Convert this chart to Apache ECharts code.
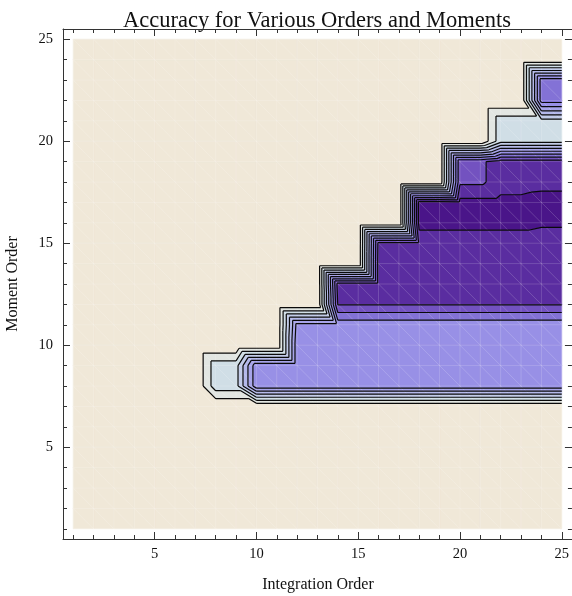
<!DOCTYPE html>
<html>
<head>
<meta charset="utf-8">
<script src="https://cdn.jsdelivr.net/npm/echarts@6/dist/echarts.min.js"></script>
<style>html,body{margin:0;padding:0;background:#fff}#c{width:572px;height:596px}</style>
</head>
<body>
<div id="c"></div>
<script>
// ---- data ----
const integrationOrders = [1,2,3,4,5,6,7,8,9,10,11,12,13,14,15,16,17,18,19,20,21,22,23,24,25];
const momentOrders = [1,2,3,4,5,6,7,8,9,10,11,12,13,14,15,16,17,18,19,20,21,22,23,24,25];
const minorTicks = [1,2,3,4,5,6,7,8,9,10,11,12,13,14,15,16,17,18,19,20,21,22,23,24,25];
const majorTicks = [5,10,15,20,25];
const contourLevels = [1,2,3,4,5,6,7,8,9,10];
const bandColors = ['#4a1589','#5a2da0','#7352c0','#8372d6','#9890e6','#a7a4e9','#b4b8ea','#c2cbe8','#d0dee6','#e2e6e2','#f0e8d8'];
const titleText = 'Accuracy for Various Orders and Moments';
const xName = 'Integration Order';
const yName = 'Moment Order';
// accuracy[momentOrder-1][integrationOrder-1]
const accuracy = [
  [11,11,11,11,11, 11,11,11,11,11, 11,11,11,11,11, 11,11,11,11,11, 11,11,11,11,11],
  [11,11,11,11,11, 11,11,11,11,11, 11,11,11,11,11, 11,11,11,11,11, 11,11,11,11,11],
  [11,11,11,11,11, 11,11,11,11,11, 11,11,11,11,11, 11,11,11,11,11, 11,11,11,11,11],
  [11,11,11,11,11, 11,11,11,11,11, 11,11,11,11,11, 11,11,11,11,11, 11,11,11,11,11],
  [11,11,11,11,11, 11,11,11,11,11, 11,11,11,11,11, 11,11,11,11,11, 11,11,11,11,11],
  [11,11,11,11,11, 11,11,11,11,11, 11,11,11,11,11, 11,11,11,11,11, 11,11,11,11,11],
  [11,11,11,11,11, 11,11,11,11,11, 11,11,11,11,11, 11,11,11,11,11, 11,11,11,11,11],
  [11,11,11,11,11, 11,11,8.4,8.4,4.3, 4.3,4.3,4.3,4.3,4.3, 4.3,4.3,4.3,4.3,4.3, 4.3,4.3,4.3,4.3,4.3],
  [11,11,11,11,11, 11,11,8.4,8.4,4.3, 4.3,4.3,4.3,4.3,4.3, 4.3,4.3,4.3,4.3,4.3, 4.3,4.3,4.3,4.3,4.3],
  [11,11,11,11,11, 11,11,11,11,11, 11,4.3,4.3,4.3,4.3, 4.3,4.3,4.3,4.3,4.3, 4.3,4.3,4.3,4.3,4.3],
  [11,11,11,11,11, 11,11,11,11,11, 11,4.6,4.6,4.6,4.6, 4.6,4.6,4.6,4.6,4.6, 4.6,4.6,4.6,4.6,4.6],
  [11,11,11,11,11, 11,11,11,11,11, 11,11,11,1.95,1.95, 1.95,1.95,1.95,1.95,1.95, 1.95,1.95,1.95,1.95,1.95],
  [11,11,11,11,11, 11,11,11,11,11, 11,11,11,1.6,1.6, 1.6,1.6,1.6,1.6,1.6, 1.6,1.6,1.6,1.6,1.6],
  [11,11,11,11,11, 11,11,11,11,11, 11,11,11,11,11, 1.6,1.6,1.6,1.6,1.6, 1.6,1.6,1.6,1.6,1.6],
  [11,11,11,11,11, 11,11,11,11,11, 11,11,11,11,11, 1.7,1.7,1.7,1.7,1.7, 1.7,1.7,1.7,1.7,1.7],
  [11,11,11,11,11, 11,11,11,11,11, 11,11,11,11,11, 11,11,0.6,0.6,0.6, 0.6,0.6,0.6,0.8,0.8],
  [11,11,11,11,11, 11,11,11,11,11, 11,11,11,11,11, 11,11,0.6,0.6,0.7, 0.7,0.7,0.7,0.5,0.5],
  [11,11,11,11,11, 11,11,11,11,11, 11,11,11,11,11, 11,11,11,11,2.2, 2.2,1.5,1.5,1.4,1.4],
  [11,11,11,11,11, 11,11,11,11,11, 11,11,11,11,11, 11,11,11,11,2.2, 2.2,1.5,1.5,1.5,1.5],
  [11,11,11,11,11, 11,11,11,11,11, 11,11,11,11,11, 11,11,11,11,11, 11,8.4,8.4,8.4,8.4],
  [11,11,11,11,11, 11,11,11,11,11, 11,11,11,11,11, 11,11,11,11,11, 11,8.4,8.4,8.4,8.4],
  [11,11,11,11,11, 11,11,11,11,11, 11,11,11,11,11, 11,11,11,11,11, 11,11,11,3.5,3.5],
  [11,11,11,11,11, 11,11,11,11,11, 11,11,11,11,11, 11,11,11,11,11, 11,11,11,3.5,3.5],
  [11,11,11,11,11, 11,11,11,11,11, 11,11,11,11,11, 11,11,11,11,11, 11,11,11,11,11],
  [11,11,11,11,11, 11,11,11,11,11, 11,11,11,11,11, 11,11,11,11,11, 11,11,11,11,11]
];

// ---- contouring (linear interpolation on triangles) ----
function clipPoly(poly, level, keepAbove) {
  const out = [];
  for (let k = 0; k < poly.length; k++) {
    const p = poly[k], q = poly[(k + 1) % poly.length];
    const pin = keepAbove ? p.v >= level : p.v <= level;
    const qin = keepAbove ? q.v >= level : q.v <= level;
    if (pin) out.push(p);
    if (pin !== qin) {
      const t = (level - p.v) / (q.v - p.v);
      out.push({x: p.x + t * (q.x - p.x), y: p.y + t * (q.y - p.y), v: level});
    }
  }
  return out;
}

function renderContours(params, api) {
  const f = (x, y) => { const c = api.coord([x, y]); return c[0].toFixed(2) + ' ' + c[1].toFixed(2); };
  const bandPaths = bandColors.map(() => []);
  const linePath = [];
  const meshPath = [];
  const nx = integrationOrders.length, ny = momentOrders.length;
  for (let j = 0; j < ny - 1; j++) {
    for (let i = 0; i < nx - 1; i++) {
      const x0 = integrationOrders[i], x1 = integrationOrders[i + 1];
      const y0 = momentOrders[j], y1 = momentOrders[j + 1];
      const a = {x: x0, y: y0, v: accuracy[j][i]};
      const b = {x: x1, y: y0, v: accuracy[j][i + 1]};
      const c = {x: x0, y: y1, v: accuracy[j + 1][i]};
      const d = {x: x1, y: y1, v: accuracy[j + 1][i + 1]};
      const tris = [[a, b, c], [b, d, c]];
      meshPath.push('M' + f(x0, y1) + 'L' + f(x1, y0));
      for (const tri of tris) {
        const vmin = Math.min(tri[0].v, tri[1].v, tri[2].v);
        const vmax = Math.max(tri[0].v, tri[1].v, tri[2].v);
        for (let bi = 0; bi < bandColors.length; bi++) {
          const lo = bi === 0 ? -Infinity : contourLevels[bi - 1];
          const hi = bi === contourLevels.length ? Infinity : contourLevels[bi];
          if (vmax < lo || vmin > hi) continue;
          let poly = tri;
          if (lo !== -Infinity) poly = clipPoly(poly, lo, true);
          if (poly.length >= 3 && hi !== Infinity) poly = clipPoly(poly, hi, false);
          if (poly.length < 3) continue;
          bandPaths[bi].push('M' + poly.map(p => f(p.x, p.y)).join('L') + 'Z');
        }
        for (const L of contourLevels) {
          if (L < vmin || L > vmax) continue;
          const pts = [];
          for (let e = 0; e < 3; e++) {
            const p = tri[e], q = tri[(e + 1) % 3];
            if ((p.v - L) * (q.v - L) < 0) {
              const t = (L - p.v) / (q.v - p.v);
              pts.push([p.x + t * (q.x - p.x), p.y + t * (q.y - p.y)]);
            }
          }
          if (pts.length === 2) linePath.push('M' + f(pts[0][0], pts[0][1]) + 'L' + f(pts[1][0], pts[1][1]));
        }
      }
    }
  }
  for (let i = 0; i < nx; i++) {
    meshPath.push('M' + f(integrationOrders[i], momentOrders[0]) + 'L' + f(integrationOrders[i], momentOrders[ny - 1]));
  }
  for (let j = 0; j < ny; j++) {
    meshPath.push('M' + f(integrationOrders[0], momentOrders[j]) + 'L' + f(integrationOrders[nx - 1], momentOrders[j]));
  }
  const children = [];
  bandPaths.forEach((segs, bi) => {
    if (!segs.length) return;
    children.push({type: 'path', shape: {pathData: segs.join('')},
      style: {fill: bandColors[bi], stroke: bandColors[bi], lineWidth: 0.6}});
  });
  children.push({type: 'path', shape: {pathData: meshPath.join('')},
    style: {fill: null, stroke: 'rgba(255,255,255,0.17)', lineWidth: 1}});
  children.push({type: 'path', shape: {pathData: linePath.join('')},
    style: {fill: null, stroke: '#0a0a0a', lineWidth: 1.2}});
  return {type: 'group', children};
}

// ---- chart ----
const chart = echarts.init(document.getElementById('c'), null, {renderer: 'canvas'});
const serif = 'Liberation Serif';
const lineColor = '#333';
function axis(position, ticks, len, showLine, labels, margin) {
  return {
    type: 'value', min: 0.5, max: 25.5, position: position,
    axisLine: {show: showLine, onZero: false, lineStyle: {color: lineColor, width: 1}},
    axisTick: {show: true, inside: true, length: len, customValues: ticks, lineStyle: {color: lineColor, width: 1}},
    axisLabel: labels ? {show: true, customValues: majorTicks, margin: margin, fontFamily: serif, fontSize: 14.5, color: '#111'} : {show: false},
    splitLine: {show: false}
  };
}
chart.setOption({
  animation: false,
  grid: {left: 63, top: 29, width: 510, height: 510, containLabel: false},
  xAxis: [
    axis('bottom', minorTicks, 4, true, true, 8),
    axis('bottom', majorTicks, 7, false, false),
    axis('top', minorTicks, 4, true, false),
    axis('top', majorTicks, 7, false, false)
  ],
  yAxis: [
    axis('left', minorTicks, 4, true, true, 10),
    axis('left', majorTicks, 7, false, false),
    axis('right', minorTicks, 4, true, false),
    axis('right', majorTicks, 7, false, false)
  ],
  graphic: [
    {type: 'text', x: 317, y: 21, style: {text: titleText, fontFamily: serif, fontSize: 22.5, fill: '#111', align: 'center', verticalAlign: 'middle'}},
    {type: 'text', x: 318, y: 585, style: {text: xName, fontFamily: serif, fontSize: 16, fill: '#111', align: 'center', verticalAlign: 'middle'}},
    {type: 'text', x: 13, y: 284, rotation: Math.PI / 2, style: {text: yName, fontFamily: serif, fontSize: 16, fill: '#111', align: 'center', verticalAlign: 'middle'}}
  ],
  series: [{
    type: 'custom', coordinateSystem: 'cartesian2d', xAxisIndex: 0, yAxisIndex: 0,
    silent: true, clip: false,
    renderItem: renderContours,
    data: [[integrationOrders[0], momentOrders[0]]]
  }]
});
</script>
</body>
</html>
